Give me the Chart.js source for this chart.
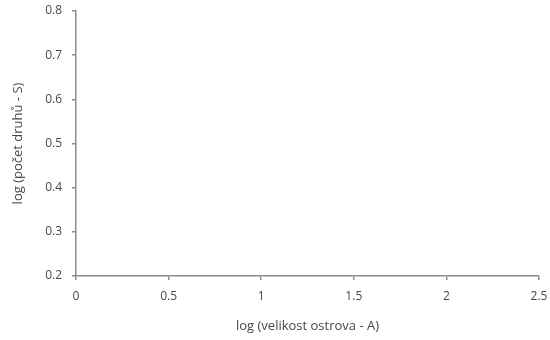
<!DOCTYPE html>
<html>
<head>
<meta charset="utf-8">
<script src="https://cdn.jsdelivr.net/npm/chart.js@4"></script>
<style>
  html, body { margin: 0; padding: 0; background: #fff; }
  #wrap { width: 550px; height: 340px; }
</style>
</head>
<body>
<div id="wrap"><canvas id="chart" width="550" height="340"></canvas></div>
<script>
// data - the reference plot has no points, only the empty axes
const logArea = [];
const logSpecies = [];
const xTicks = [0, 0.5, 1, 1.5, 2, 2.5];
const yTicks = [0.2, 0.3, 0.4, 0.5, 0.6, 0.7, 0.8];
const xTitle = 'log (velikost ostrova - A)';
const yTitle = 'log (počet druhů - S)';

const axisColor = '#8c8c8c';
const labelColor = '#474747';
const font = { family: '"Open Sans", "Liberation Sans", sans-serif', size: 12 };

const points = logArea.map((x, i) => ({ x, y: logSpecies[i] }));

new Chart(document.getElementById('chart'), {
  type: 'scatter',
  data: {
    datasets: [{
      data: points,
      pointRadius: 3,
      backgroundColor: '#4f81bd'
    }]
  },
  options: {
    responsive: false,
    animation: false,
    layout: { padding: { top: 11, right: 11, left: 0, bottom: 6 } },
    plugins: { legend: { display: false }, tooltip: { enabled: false } },
    scales: {
      x: {
        type: 'linear',
        min: xTicks[0],
        max: xTicks[xTicks.length - 1],
        afterBuildTicks: s => { s.ticks = xTicks.map(v => ({ value: v })); },
        ticks: { color: labelColor, font, padding: 9, callback: v => String(v) },
        grid: { drawOnChartArea: false, drawTicks: true, tickLength: 4, color: axisColor, lineWidth: 1.5 },
        border: { display: true, color: axisColor, width: 1.5 },
        title: { display: true, text: xTitle, color: labelColor, font: { ...font, size: 13 }, padding: { top: 8, bottom: 0 } },
        afterFit: s => { s.height = 58; s.paddingLeft = 0; s.paddingRight = 0; }
      },
      y: {
        type: 'linear',
        min: yTicks[0],
        max: yTicks[yTicks.length - 1],
        afterBuildTicks: s => { s.ticks = yTicks.map(v => ({ value: v })); },
        ticks: { color: labelColor, font, padding: 10, callback: v => v.toFixed(1) },
        grid: { drawOnChartArea: false, drawTicks: true, tickLength: 4, color: axisColor, lineWidth: 1.5 },
        border: { display: true, color: axisColor, width: 1.5 },
        title: { display: true, text: yTitle, color: labelColor, font: { ...font, size: 13 }, padding: { top: 10, bottom: 0 } },
        afterFit: s => { s.width = 76; s.paddingTop = 0; s.paddingBottom = 0; }
      }
    }
  }
});
</script>
</body>
</html>
